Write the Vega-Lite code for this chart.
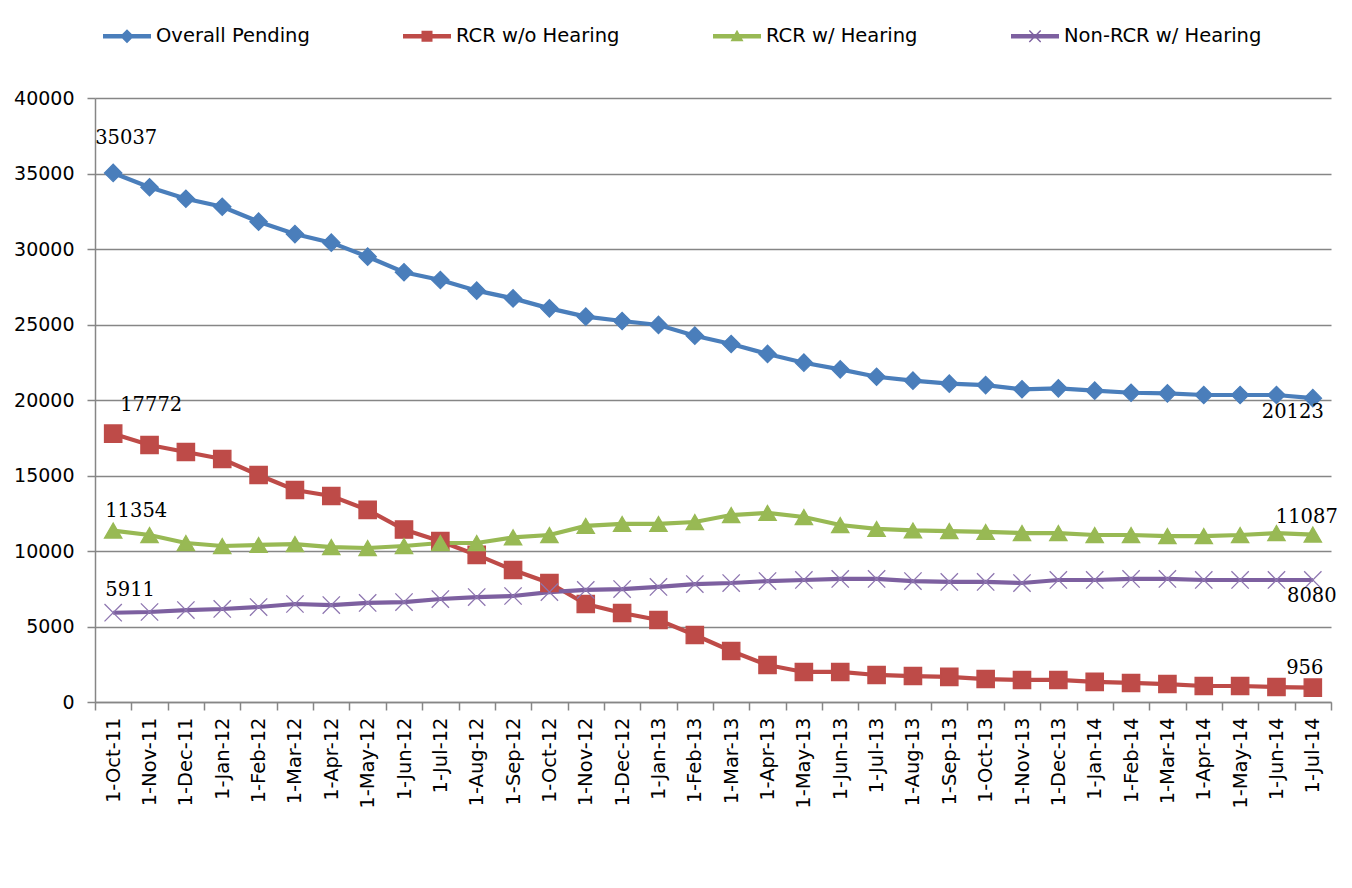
{
  "$schema": "https://vega.github.io/schema/vega-lite/v6.json",
  "autosize": "none",
  "width": 1236,
  "height": 604,
  "padding": {"left": 95, "top": 98, "right": 21, "bottom": 186},
  "background": "white",
  "config": {
    "view": {"stroke": null},
    "font": "DejaVu Sans",
    "text": {"color": "black"}
  },
  "data": {
    "values": [
      {"date": "1-Oct-11", "Overall Pending": 35037, "RCR w/o Hearing": 17772, "RCR w/ Hearing": 11354, "Non-RCR w/ Hearing": 5911},
      {"date": "1-Nov-11", "Overall Pending": 34090, "RCR w/o Hearing": 17020, "RCR w/ Hearing": 11060, "Non-RCR w/ Hearing": 5960},
      {"date": "1-Dec-11", "Overall Pending": 33330, "RCR w/o Hearing": 16560, "RCR w/ Hearing": 10530, "Non-RCR w/ Hearing": 6090},
      {"date": "1-Jan-12", "Overall Pending": 32800, "RCR w/o Hearing": 16090, "RCR w/ Hearing": 10330, "Non-RCR w/ Hearing": 6160},
      {"date": "1-Feb-12", "Overall Pending": 31810, "RCR w/o Hearing": 15030, "RCR w/ Hearing": 10400, "Non-RCR w/ Hearing": 6290},
      {"date": "1-Mar-12", "Overall Pending": 30990, "RCR w/o Hearing": 14040, "RCR w/ Hearing": 10460, "Non-RCR w/ Hearing": 6490},
      {"date": "1-Apr-12", "Overall Pending": 30420, "RCR w/o Hearing": 13640, "RCR w/ Hearing": 10260, "Non-RCR w/ Hearing": 6420},
      {"date": "1-May-12", "Overall Pending": 29490, "RCR w/o Hearing": 12720, "RCR w/ Hearing": 10200, "Non-RCR w/ Hearing": 6560},
      {"date": "1-Jun-12", "Overall Pending": 28460, "RCR w/o Hearing": 11420, "RCR w/ Hearing": 10330, "Non-RCR w/ Hearing": 6620},
      {"date": "1-Jul-12", "Overall Pending": 27950, "RCR w/o Hearing": 10650, "RCR w/ Hearing": 10530, "Non-RCR w/ Hearing": 6820},
      {"date": "1-Aug-12", "Overall Pending": 27240, "RCR w/o Hearing": 9740, "RCR w/ Hearing": 10530, "Non-RCR w/ Hearing": 6950},
      {"date": "1-Sep-12", "Overall Pending": 26730, "RCR w/o Hearing": 8740, "RCR w/ Hearing": 10900, "Non-RCR w/ Hearing": 7020},
      {"date": "1-Oct-12", "Overall Pending": 26070, "RCR w/o Hearing": 7880, "RCR w/ Hearing": 11060, "Non-RCR w/ Hearing": 7280},
      {"date": "1-Nov-12", "Overall Pending": 25520, "RCR w/o Hearing": 6490, "RCR w/ Hearing": 11660, "Non-RCR w/ Hearing": 7420},
      {"date": "1-Dec-12", "Overall Pending": 25230, "RCR w/o Hearing": 5890, "RCR w/ Hearing": 11790, "Non-RCR w/ Hearing": 7480},
      {"date": "1-Jan-13", "Overall Pending": 24970, "RCR w/o Hearing": 5430, "RCR w/ Hearing": 11790, "Non-RCR w/ Hearing": 7620},
      {"date": "1-Feb-13", "Overall Pending": 24260, "RCR w/o Hearing": 4440, "RCR w/ Hearing": 11920, "Non-RCR w/ Hearing": 7810},
      {"date": "1-Mar-13", "Overall Pending": 23710, "RCR w/o Hearing": 3380, "RCR w/ Hearing": 12380, "Non-RCR w/ Hearing": 7880},
      {"date": "1-Apr-13", "Overall Pending": 23050, "RCR w/o Hearing": 2450, "RCR w/ Hearing": 12520, "Non-RCR w/ Hearing": 8010},
      {"date": "1-May-13", "Overall Pending": 22470, "RCR w/o Hearing": 1990, "RCR w/ Hearing": 12250, "Non-RCR w/ Hearing": 8080},
      {"date": "1-Jun-13", "Overall Pending": 22030, "RCR w/o Hearing": 1990, "RCR w/ Hearing": 11720, "Non-RCR w/ Hearing": 8150},
      {"date": "1-Jul-13", "Overall Pending": 21540, "RCR w/o Hearing": 1790, "RCR w/ Hearing": 11460, "Non-RCR w/ Hearing": 8150},
      {"date": "1-Aug-13", "Overall Pending": 21280, "RCR w/o Hearing": 1720, "RCR w/ Hearing": 11360, "Non-RCR w/ Hearing": 8010},
      {"date": "1-Sep-13", "Overall Pending": 21080, "RCR w/o Hearing": 1660, "RCR w/ Hearing": 11320, "Non-RCR w/ Hearing": 7950},
      {"date": "1-Oct-13", "Overall Pending": 20990, "RCR w/o Hearing": 1520, "RCR w/ Hearing": 11260, "Non-RCR w/ Hearing": 7950},
      {"date": "1-Nov-13", "Overall Pending": 20710, "RCR w/o Hearing": 1460, "RCR w/ Hearing": 11190, "Non-RCR w/ Hearing": 7880},
      {"date": "1-Dec-13", "Overall Pending": 20770, "RCR w/o Hearing": 1460, "RCR w/ Hearing": 11190, "Non-RCR w/ Hearing": 8080},
      {"date": "1-Jan-14", "Overall Pending": 20620, "RCR w/o Hearing": 1330, "RCR w/ Hearing": 11060, "Non-RCR w/ Hearing": 8080},
      {"date": "1-Feb-14", "Overall Pending": 20480, "RCR w/o Hearing": 1260, "RCR w/ Hearing": 11060, "Non-RCR w/ Hearing": 8150},
      {"date": "1-Mar-14", "Overall Pending": 20440, "RCR w/o Hearing": 1190, "RCR w/ Hearing": 10990, "Non-RCR w/ Hearing": 8150},
      {"date": "1-Apr-14", "Overall Pending": 20330, "RCR w/o Hearing": 1060, "RCR w/ Hearing": 10990, "Non-RCR w/ Hearing": 8080},
      {"date": "1-May-14", "Overall Pending": 20330, "RCR w/o Hearing": 1060, "RCR w/ Hearing": 11060, "Non-RCR w/ Hearing": 8080},
      {"date": "1-Jun-14", "Overall Pending": 20330, "RCR w/o Hearing": 990, "RCR w/ Hearing": 11190, "Non-RCR w/ Hearing": 8080},
      {"date": "1-Jul-14", "Overall Pending": 20123, "RCR w/o Hearing": 956, "RCR w/ Hearing": 11087, "Non-RCR w/ Hearing": 8080}
    ]
  },
  "transform": [
    {"fold": ["Overall Pending", "RCR w/o Hearing", "RCR w/ Hearing", "Non-RCR w/ Hearing"], "as": ["series", "value"]}
  ],
  "encoding": {
    "x": {
      "field": "date",
      "type": "ordinal",
      "sort": null,
      "scale": {"type": "band", "paddingInner": 0, "paddingOuter": 0},
      "axis": {
        "title": null,
        "labelAngle": 270,
        "labelFont": "DejaVu Sans",
        "labelFontSize": 19.5,
        "labelColor": "black",
        "labelPadding": 7,
        "tickSize": 8,
        "tickBand": "extent",
        "tickColor": "#868686",
        "tickWidth": 1.5,
        "domainColor": "#868686",
        "domainWidth": 1.5,
        "grid": false,
        "labelOverlap": false
      }
    },
    "y": {
      "field": "value",
      "type": "quantitative",
      "scale": {"domain": [0, 40000], "nice": false},
      "axis": {
        "title": null,
        "values": [0, 5000, 10000, 15000, 20000, 25000, 30000, 35000, 40000],
        "format": "d",
        "labelFont": "DejaVu Sans",
        "labelFontSize": 19,
        "labelColor": "black",
        "labelPadding": 13,
        "tickSize": 8,
        "tickColor": "#868686",
        "tickWidth": 1.5,
        "domainColor": "#868686",
        "domainWidth": 1.5,
        "grid": true,
        "gridColor": "#868686",
        "gridWidth": 1.5
      }
    }
  },
  "layer": [
    {
      "mark": {"type": "line", "strokeWidth": 4.2},
      "encoding": {
        "color": {
          "field": "series",
          "type": "nominal",
          "scale": {"domain": ["Overall Pending", "RCR w/o Hearing", "RCR w/ Hearing", "Non-RCR w/ Hearing"], "range": ["#4A7EBB", "#BE4B48", "#98B954", "#7D60A0"]},
          "legend": null
        }
      }
    },
    {
      "mark": {"type": "point", "filled": true, "opacity": 1, "size": 300, "strokeWidth": 1.3},
      "encoding": {
        "color": {
          "field": "series",
          "type": "nominal",
          "scale": {"domain": ["Overall Pending", "RCR w/o Hearing", "RCR w/ Hearing", "Non-RCR w/ Hearing"], "range": ["#4A7EBB", "#BE4B48", "#98B954", "#7D60A0"]},
          "legend": null
        },
        "stroke": {
          "field": "series",
          "type": "nominal",
          "scale": {"domain": ["Overall Pending", "RCR w/o Hearing", "RCR w/ Hearing", "Non-RCR w/ Hearing"], "range": ["#4A7EBB", "#BE4B48", "#98B954", "#8E76B0"]},
          "legend": null
        },
        "shape": {
          "field": "series",
          "type": "nominal",
          "scale": {"domain": ["Overall Pending", "RCR w/o Hearing", "RCR w/ Hearing", "Non-RCR w/ Hearing"], "range": ["diamond", "square", "triangle-up", "M-1,-1L1,1M1,-1L-1,1"]},
          "legend": null
        }
      }
    },
    {
      "mark": {"type": "point", "filled": true, "opacity": 0},
      "encoding": {
        "fill": {
          "field": "series",
          "type": "nominal",
          "scale": {"domain": ["Overall Pending", "RCR w/o Hearing", "RCR w/ Hearing", "Non-RCR w/ Hearing"], "range": ["#4A7EBB", "#BE4B48", "#98B954", "#7D60A0"]},
          "legend": {
            "orient": "none",
            "legendX": 22,
            "legendY": -72,
            "direction": "horizontal",
            "title": null,
            "padding": 0,
            "columnPadding": 93,
            "labelOffset": 19,
            "symbolSize": 400,
            "symbolOpacity": 1,
            "symbolStrokeWidth": 0,
            "labelFont": "DejaVu Sans",
            "labelFontSize": 19.5,
            "labelColor": "black",
            "labelLimit": 400
          }
        },
        "shape": {
          "field": "series",
          "type": "nominal",
          "scale": {"domain": ["Overall Pending", "RCR w/o Hearing", "RCR w/ Hearing", "Non-RCR w/ Hearing"], "range": [
            "M-2.4,-0.23H2.4V0.23H-2.4Z M0,-0.7L0.7,0L0,0.7L-0.7,0Z",
            "M-2.4,-0.23H2.4V0.23H-2.4Z M-0.55,-0.55H0.55V0.55H-0.55Z",
            "M-2.4,-0.23H2.4V0.23H-2.4Z M0,-0.65L0.65,0.5L-0.65,0.5Z",
            "M-2.4,-0.23H2.4V0.23H-2.4Z M-0.62,-0.52L-0.52,-0.62L0.62,0.52L0.52,0.62Z M0.52,-0.62L0.62,-0.52L-0.52,0.62L-0.62,0.52Z"
          ]},
          "legend": {
            "orient": "none",
            "legendX": 22,
            "legendY": -72,
            "direction": "horizontal",
            "title": null,
            "padding": 0,
            "columnPadding": 93,
            "labelOffset": 19,
            "symbolSize": 400,
            "symbolOpacity": 1,
            "symbolStrokeWidth": 0,
            "labelFont": "DejaVu Sans",
            "labelFontSize": 19.5,
            "labelColor": "black",
            "labelLimit": 400
          }
        }
      }
    },
    {
      "transform": [{"filter": "datum.series == 'Overall Pending' && datum.date == '1-Oct-11'"}],
      "mark": {"type": "text", "dx": 13, "dy": -35, "font": "DejaVu Serif", "fontSize": 19.5},
      "encoding": {"text": {"field": "value", "type": "quantitative", "format": "d"}}
    },
    {
      "transform": [{"filter": "datum.series == 'RCR w/o Hearing' && datum.date == '1-Oct-11'"}],
      "mark": {"type": "text", "dx": 38, "dy": -29, "font": "DejaVu Serif", "fontSize": 19.5},
      "encoding": {"text": {"field": "value", "type": "quantitative", "format": "d"}}
    },
    {
      "transform": [{"filter": "datum.series == 'RCR w/ Hearing' && datum.date == '1-Oct-11'"}],
      "mark": {"type": "text", "dx": 23, "dy": -20, "font": "DejaVu Serif", "fontSize": 19.5},
      "encoding": {"text": {"field": "value", "type": "quantitative", "format": "d"}}
    },
    {
      "transform": [{"filter": "datum.series == 'Non-RCR w/ Hearing' && datum.date == '1-Oct-11'"}],
      "mark": {"type": "text", "dx": 17, "dy": -23, "font": "DejaVu Serif", "fontSize": 19.5},
      "encoding": {"text": {"field": "value", "type": "quantitative", "format": "d"}}
    },
    {
      "transform": [{"filter": "datum.series == 'Overall Pending' && datum.date == '1-Jul-14'"}],
      "mark": {"type": "text", "dx": -20, "dy": 14, "font": "DejaVu Serif", "fontSize": 19.5},
      "encoding": {"text": {"field": "value", "type": "quantitative", "format": "d"}}
    },
    {
      "transform": [{"filter": "datum.series == 'RCR w/ Hearing' && datum.date == '1-Jul-14'"}],
      "mark": {"type": "text", "dx": -6, "dy": -18, "font": "DejaVu Serif", "fontSize": 19.5},
      "encoding": {"text": {"field": "value", "type": "quantitative", "format": "d"}}
    },
    {
      "transform": [{"filter": "datum.series == 'Non-RCR w/ Hearing' && datum.date == '1-Jul-14'"}],
      "mark": {"type": "text", "dx": -1, "dy": 16, "font": "DejaVu Serif", "fontSize": 19.5},
      "encoding": {"text": {"field": "value", "type": "quantitative", "format": "d"}}
    },
    {
      "transform": [{"filter": "datum.series == 'RCR w/o Hearing' && datum.date == '1-Jul-14'"}],
      "mark": {"type": "text", "dx": -8, "dy": -20, "font": "DejaVu Serif", "fontSize": 19.5},
      "encoding": {"text": {"field": "value", "type": "quantitative", "format": "d"}}
    }
  ],
  "resolve": {"scale": {"shape": "independent", "fill": "independent"}}
}
